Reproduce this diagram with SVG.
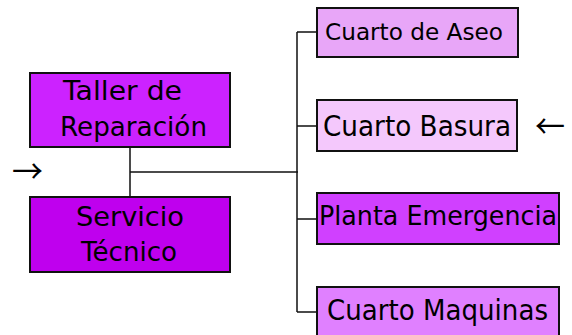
<svg xmlns="http://www.w3.org/2000/svg" width="572" height="335" viewBox="0 0 572 335">
<style>
.box{stroke:#111;stroke-width:2}
.t{font-family:"DejaVu Sans","Liberation Sans",sans-serif;fill:#000}
.c{stroke:#111;stroke-width:1.5;fill:none}
.a{font-family:"Noto Sans CJK JP",sans-serif;font-size:32px;fill:#000}
</style>
<rect width="572" height="335" fill="#fff"/>
<g id="connectors">
<path class="c" d="M130 147V197M130 172H298M297 32V312M297 32H317M297 126H317M297 219H317M297 312H317"/>
</g>
<g id="taller">
<rect class="box" x="30" y="73" width="200" height="74" fill="#CC22FF"/>
<text class="t" x="63" y="100" font-size="26" textLength="119" lengthAdjust="spacingAndGlyphs">Taller de</text>
<text class="t" x="60" y="136" font-size="27" textLength="147" lengthAdjust="spacingAndGlyphs">Reparación</text>
</g>
<g id="servicio">
<rect class="box" x="30" y="197" width="200" height="75" fill="#BF00EE"/>
<text class="t" x="76" y="226" font-size="27" textLength="108" lengthAdjust="spacingAndGlyphs">Servicio</text>
<text class="t" x="81" y="261" font-size="26" textLength="96" lengthAdjust="spacingAndGlyphs">Técnico</text>
</g>
<g id="aseo">
<rect class="box" x="317" y="8" width="201" height="49" fill="#E8A6F8"/>
<text class="t" x="325" y="40" font-size="23" textLength="178" lengthAdjust="spacingAndGlyphs">Cuarto de Aseo</text>
</g>
<g id="basura">
<rect class="box" x="317" y="100" width="200" height="51" fill="#F4C8FC"/>
<text class="t" x="323" y="136" font-size="28" textLength="188" lengthAdjust="spacingAndGlyphs">Cuarto Basura</text>
</g>
<g id="planta">
<rect class="box" x="317" y="193" width="242" height="51" fill="#D040FF"/>
<text class="t" x="319" y="225" font-size="27" textLength="238" lengthAdjust="spacingAndGlyphs">Planta Emergencia</text>
</g>
<g id="maquinas">
<rect class="box" x="317" y="287" width="242" height="60" fill="#E080FF"/>
<text class="t" x="327" y="320" font-size="28" textLength="221" lengthAdjust="spacingAndGlyphs">Cuarto Maquinas</text>
</g>
<g id="arrows">
<text class="a" x="12" y="183" textLength="31" lengthAdjust="spacingAndGlyphs">→</text>
<text class="a" x="535" y="138" textLength="30" lengthAdjust="spacingAndGlyphs">←</text>
</g>
</svg>
